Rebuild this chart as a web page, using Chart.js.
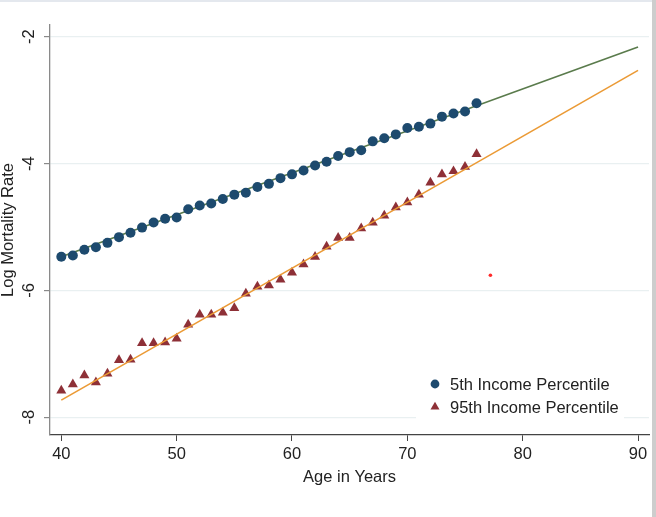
<!DOCTYPE html>
<html>
<head>
<meta charset="utf-8">
<script src="https://cdn.jsdelivr.net/npm/chart.js@4"></script>
<style>
  html, body { margin: 0; padding: 0; background: #fff; }
  #wrap { position: relative; width: 656px; height: 517px; overflow: hidden; }
  #topline { position: absolute; left: 0; top: 0; width: 656px; height: 2px; background: #e4e8ee; }
  #rightbar { position: absolute; right: 0; top: 0; width: 4px; height: 517px; background: #cdcdcd; }
</style>
</head>
<body>
<div id="wrap">
  <canvas id="chart" width="656" height="517"></canvas>
  <div id="topline"></div>
  <div id="rightbar"></div>
</div>
<script>
// ages with observed values
const ages = [40, 41, 42, 43, 44, 45, 46, 47, 48, 49,
              50, 51, 52, 53, 54, 55, 56, 57, 58, 59,
              60, 61, 62, 63, 64, 65, 66, 67, 68, 69,
              70, 71, 72, 73, 74, 75, 76];

// log mortality, 5th income percentile
const rate5 = [-5.47, -5.45, -5.36, -5.32, -5.25, -5.16, -5.09, -5.01, -4.93, -4.87,
               -4.85, -4.72, -4.66, -4.63, -4.56, -4.49, -4.46, -4.37, -4.32, -4.23,
               -4.17, -4.11, -4.03, -3.97, -3.88, -3.82, -3.79, -3.65, -3.60, -3.54,
               -3.44, -3.42, -3.37, -3.26, -3.21, -3.18, -3.05];

// log mortality, 95th income percentile
const rate95 = [-7.58, -7.48, -7.34, -7.45, -7.31, -7.10, -7.09, -6.83, -6.83, -6.82,
                -6.76, -6.54, -6.38, -6.38, -6.35, -6.28, -6.05, -5.94, -5.92, -5.83,
                -5.72, -5.59, -5.47, -5.31, -5.17, -5.17, -5.02, -4.93, -4.82, -4.69,
                -4.61, -4.49, -4.30, -4.17, -4.12, -4.05, -3.85];

// linear fit end points
const fitAges = [40, 90];
const fit5 = [-5.47, -2.16];
const fit95 = [-7.73, -2.53];

// stray red dot in the picture
const strayAge = [77.2];
const strayRate = [-5.76];

const xTicks = [40, 50, 60, 70, 80, 90];
const yTicks = [-8, -6, -4, -2];

const labels = ['5th Income Percentile', '95th Income Percentile'];

const FONT = '"Liberation Sans", Arial, sans-serif';

function pts(xs, ys) {
    return xs.map((x, i) => ({ x: x, y: ys[i] }));
}

// rotated y tick labels (Stata style)
const yTickLabels = {
    id: 'yTickLabels',
    afterDraw(chart) {
        const s = chart.scales.y;
        const ctx = chart.ctx;
        ctx.save();
        ctx.font = '16.5px ' + FONT;
        ctx.fillStyle = '#222';
        ctx.textAlign = 'center';
        ctx.textBaseline = 'middle';
        s.ticks.forEach(t => {
            const py = s.getPixelForValue(t.value);
            ctx.save();
            ctx.translate(s.right - 21, py);
            ctx.rotate(-Math.PI / 2);
            ctx.fillText(String(t.value), 0, 0);
            ctx.restore();
        });
        ctx.restore();
    }
};

// legend inside the plot, bottom right
const innerLegend = {
    id: 'innerLegend',
    afterDatasetsDraw(chart) {
        const ctx = chart.ctx;
        const area = chart.chartArea;
        const x0 = area.left + 376;
        const y0 = area.bottom - 51;
        ctx.save();
        ctx.fillStyle = '#fff';
        ctx.fillRect(x0 - 10, y0 - 16, 208, 52);
        ctx.font = '16.5px ' + FONT;
        ctx.textBaseline = 'middle';
        ctx.textAlign = 'left';
        [2, 3].forEach((di, i) => {
            const ds = chart.data.datasets[di];
            const cy = y0 + i * 23;
            ctx.fillStyle = ds.pointBackgroundColor;
            Chart.helpers.drawPoint(ctx, {
                pointStyle: ds.pointStyle,
                radius: ds.pointRadius - 0.6,
                rotation: 0,
                borderWidth: 0
            }, x0 + 9, cy);
            ctx.fillStyle = '#222';
            ctx.fillText(ds.label, x0 + 24, cy + 1);
        });
        ctx.restore();
    }
};

const chart = new Chart(document.getElementById('chart'), {
    type: 'scatter',
    data: {
        datasets: [
            {
                label: 'fit5',
                type: 'line',
                order: 4,
                data: pts(fitAges, fit5),
                borderColor: '#5a7b4c',
                borderWidth: 1.6,
                pointRadius: 0,
                fill: false
            },
            {
                label: 'fit95',
                type: 'line',
                order: 1,
                data: pts(fitAges, fit95),
                borderColor: '#eb9a35',
                borderWidth: 1.6,
                pointRadius: 0,
                fill: false
            },
            {
                label: labels[0],
                order: 0,
                data: pts(ages, rate5),
                pointStyle: 'circle',
                pointRadius: 5,
                pointBackgroundColor: '#1d4a6e',
                pointBorderColor: '#1d4a6e',
                pointBorderWidth: 0
            },
            {
                label: labels[1],
                order: 2,
                data: pts(ages, rate95),
                pointStyle: 'triangle',
                pointRadius: 5.8,
                pointBackgroundColor: '#8e3037',
                pointBorderColor: '#8e3037',
                pointBorderWidth: 0
            },
            {
                label: 'stray',
                order: 0,
                data: pts(strayAge, strayRate),
                pointRadius: 1.8,
                pointBackgroundColor: '#ff2a2a',
                pointBorderWidth: 0
            }
        ]
    },
    options: {
        responsive: false,
        animation: false,
        devicePixelRatio: 1,
        layout: { padding: { top: 25, right: 7, left: 0, bottom: 0 } },
        plugins: {
            legend: { display: false },
            tooltip: { enabled: false }
        },
        scales: {
            x: {
                type: 'linear',
                min: 39.02,
                max: 90.95,
                afterBuildTicks: s => { s.ticks = xTicks.map(v => ({ value: v })); },
                afterFit: s => { s.height = 82; },
                border: { display: true, color: '#444', width: 1.3 },
                grid: {
                    drawOnChartArea: false,
                    drawTicks: true,
                    tickLength: 6,
                    tickColor: '#444'
                },
                ticks: {
                    color: '#222',
                    font: { family: FONT, size: 16.5 },
                    padding: 4,
                    maxRotation: 0
                },
                title: {
                    display: true,
                    text: 'Age in Years',
                    color: '#222',
                    font: { family: FONT, size: 16.5, lineHeight: 1 },
                    padding: { top: 0, bottom: 31.5 }
                }
            },
            y: {
                type: 'linear',
                min: -8.28,
                max: -1.815,
                afterBuildTicks: s => { s.ticks = yTicks.map(v => ({ value: v })); },
                afterFit: s => { s.width = 50; },
                border: { display: true, color: '#8a8a8a', width: 1.3 },
                grid: {
                    color: '#e9f0f1',
                    lineWidth: 1.2,
                    drawTicks: true,
                    tickLength: 6,
                    tickColor: '#8a8a8a'
                },
                ticks: { display: false },
                title: {
                    display: true,
                    text: 'Log Mortality Rate',
                    color: '#222',
                    font: { family: FONT, size: 16.5, lineHeight: 1 },
                    padding: { top: 0, bottom: 0 }
                }
            }
        }
    },
    plugins: [yTickLabels, innerLegend]
});
</script>
</body>
</html>
